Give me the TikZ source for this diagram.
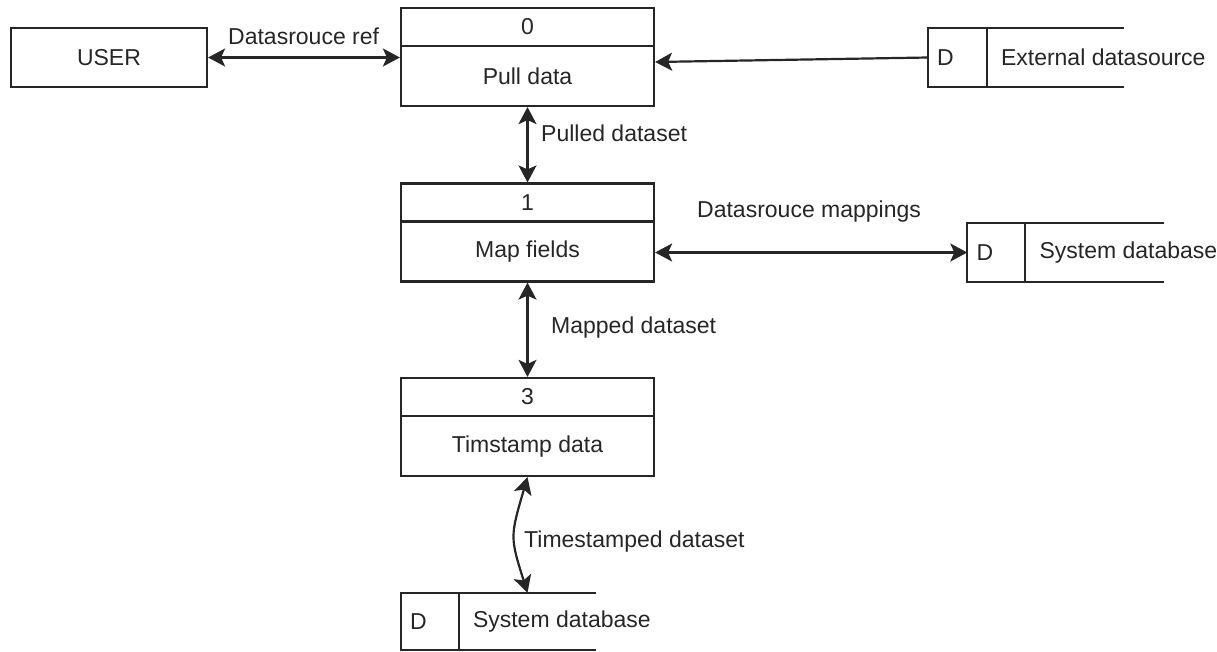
\documentclass[tikz,border=0pt]{standalone}
\usepackage{fontspec}
\setmainfont{Liberation Sans}
\usetikzlibrary{arrows.meta}

\tikzset{
  every node/.style={font=\fontsize{23}{27}\selectfont, text=black!85},
  procbox/.style={draw=black!85, line width=2.2pt, rectangle, inner sep=0pt,
                  minimum width=253pt, minimum height=98pt},
  entity/.style={draw=black!85, line width=2.2pt, rectangle, inner sep=0pt,
                 minimum width=196pt, minimum height=59pt},
  storebox/.style={rectangle, inner sep=0pt, minimum width=196pt, minimum height=59pt},
  storeline/.style={draw=black!85, line width=2.2pt},
  flow/.style={draw=black!85, line width=2.2pt},
  tipend/.style={-{Stealth[length=17pt,width=18pt,inset=4pt]}},
  tipboth/.style={{Stealth[length=17pt,width=18pt,inset=4pt]}-{Stealth[length=17pt,width=18pt,inset=4pt]}},
  lbl/.style={anchor=west, inner sep=0pt},
}

\begin{document}
\begin{tikzpicture}[x=1pt, y=-1pt]
\useasboundingbox (0,0) rectangle (1217,651);

% external entity
\node[entity] (user) at (109,57.5) {USER};

% processes
\node[procbox] (p0) at (527.5,57) {};
\node[procbox] (p1) at (527.5,232.5) {};
\node[procbox] (p3) at (527.5,427) {};
\foreach \p/\num/\name in {p0/0/Pull data, p1/1/Map fields, p3/3/Timstamp data}{
  \draw[storeline] ([yshift=-39pt]\p.north west) -- ([yshift=-39pt]\p.north east);
  \node[anchor=center] (\p-num) at ([yshift=-20pt]\p.north) {\num};
  \node[anchor=center] (\p-name) at ([yshift=31pt]\p.south) {\name};
}

% data stores
\node[storebox] (ext)  at (1026,57.5) {};
\node[storebox] (sys1) at (1065.5,252.5) {};
\node[storebox, minimum width=195pt, minimum height=57pt] (sys2) at (498.5,621.5) {};
\foreach \s/\dw/\txt in {ext/59/External datasource, sys1/58/System database, sys2/58/System database}{
  \draw[storeline] (\s.north east) -- (\s.north west) -- (\s.south west) -- (\s.south east);
  \draw[storeline] ([xshift=\dw pt]\s.north west) -- ([xshift=\dw pt]\s.south west);
  \node[lbl] (\s-d) at ([xshift=9pt]\s.west) {D};
  \node[lbl] (\s-t) at ([xshift=\dw pt+14pt]\s.west) {\txt};
}

% data flows
\draw[flow, tipboth] (user.east) -- (user.east -| p0.west);
\draw[flow, tipend] (ext.west) -- ([yshift=-5pt]p0.east);
\draw[flow, tipboth] (p0.south) -- (p1.north);
\draw[flow, tipboth] (sys1.west -| p1.east) -- (sys1.west);
\draw[flow, tipboth] (p1.south) -- (p3.north);
\draw[flow, tipboth] (p3.south) .. controls (510,537) .. (sys2.north -| p3.south);

% flow labels
\node[lbl] (l-ref)  at (228,36)  {Datasrouce ref};
\node[lbl] (l-pull) at (541,133) {Pulled dataset};
\node[lbl] (l-map)  at (697,212) {Datasrouce mappings};
\node[lbl] (l-mapd) at (551,328) {Mapped dataset};
\node[lbl] (l-ts)   at (524,542) {Timestamped dataset};
\end{tikzpicture}
\end{document}
